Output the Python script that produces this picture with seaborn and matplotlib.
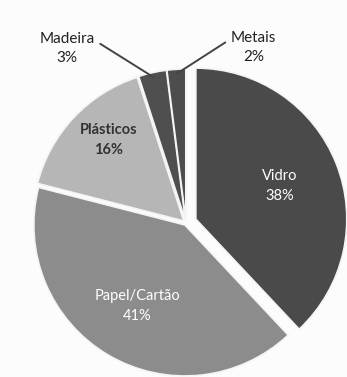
import numpy as np
import matplotlib
matplotlib.use("Agg")
import matplotlib.pyplot as plt
import seaborn as sns

categorias = ["Vidro", "Papel/Cartão", "Plásticos", "Madeira", "Metais"]
percentagens = [38, 41, 16, 3, 2]

sns.set_theme(style="white")
plt.rcParams["font.family"] = ["Lato", "DejaVu Sans"]

cores = ["#4a4a4a", "#8c8c8c", "#b6b6b6", "#4f4f4f", "#4d4d4d"]
explode = [0.07, 0.015, 0.02, 0.02, 0.02]

fig = plt.figure(figsize=(3.47, 3.77), dpi=100, facecolor="#fcfcfc")
ax = fig.add_axes([0, 0, 1, 1])
ax.set_facecolor("#fcfcfc")

wedges, _ = ax.pie(percentagens, colors=cores, startangle=90, counterclock=False,
                   explode=explode, radius=1.0,
                   wedgeprops=dict(edgecolor="#f4f4f4", linewidth=1.2))

# posição dos rótulos (raio relativo, cor, desvio angular)
dist = [0.6, 0.62, 0.73, 1.38, 1.23]
cor_txt = ["white", "white", "#333333", "#222222", "#222222"]
desloc_ang = [0, 0, -4, 22, -25]

for w, nome, p, d, c, da in zip(wedges, categorias, percentagens, dist, cor_txt, desloc_ang):
    ang = np.deg2rad((w.theta1 + w.theta2) / 2)
    cx, cy = w.center
    ang_t = ang + np.deg2rad(da)
    tx, ty = cx + d * np.cos(ang_t), cy + d * np.sin(ang_t)
    txt = f"{nome}\n{p}%"
    if d > 1:
        ex, ey = cx + 0.97 * np.cos(ang), cy + 0.97 * np.sin(ang)
        ax.annotate(txt, xy=(ex, ey), xytext=(tx, ty), ha="center", va="center",
                    fontsize=11, color=c, linespacing=1.45,
                    arrowprops=dict(arrowstyle="-", color="#444444", lw=1.4,
                                    shrinkA=2, shrinkB=0,
                                    relpos=(1.0 if da > 0 else 0.0, 0.75)))
    else:
        ax.text(tx, ty, txt, ha="center", va="center", fontsize=10.5, color=c,
                fontweight="bold" if c != "white" else "normal", linespacing=1.55)

ax.set_xlim(-186 / 151, (347 - 186) / 151)
ax.set_ylim(-154 / 151, 223 / 151)
ax.set_aspect("auto")
ax.axis("off")

fig.savefig("out.png", dpi=100, facecolor=fig.get_facecolor())
